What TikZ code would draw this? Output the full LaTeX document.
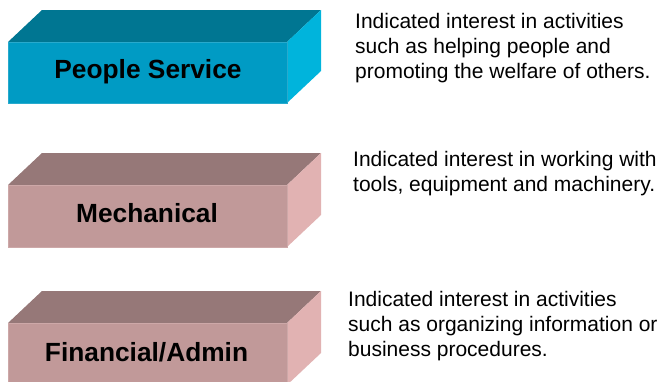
\documentclass[tikz,border=0pt]{standalone}
\usepackage{fontspec}
\setmainfont{Liberation Sans}
\definecolor{tealfront}{RGB}{0,155,196}
\definecolor{tealtop}{RGB}{0,118,146}
\definecolor{tealside}{RGB}{0,180,220}
\definecolor{tealedge}{RGB}{40,170,205}
\definecolor{rosefront}{RGB}{193,153,153}
\definecolor{rosetop}{RGB}{150,120,120}
\definecolor{roseside}{RGB}{225,178,178}
\definecolor{roseedge}{RGB}{205,168,168}
\tikzset{
  label/.style={font=\bfseries\fontsize{26.3bp}{31bp}\selectfont,anchor=base,inner sep=0pt},
  desc/.style={font=\fontsize{21bp}{24.8bp}\selectfont,align=left,anchor=north west,inner sep=0pt}
}
\begin{document}
\begin{tikzpicture}[x=1bp,y=-1bp]
\useasboundingbox (0,0) rectangle (663,381);
%
% --- Box 1: People Service ---
\fill[tealtop] (8,42) -- (42,10) -- (321,10) -- (287,42) -- cycle;
\fill[tealside] (287,42) -- (321,10) -- (321,71) -- (287,103) -- cycle;
\draw[tealedge,fill=tealfront,line width=1bp] (8.5,42.5) rectangle (287,103);
\node[label] (ps) at (148,78) {People Service};
\node[desc] (ps-text) at (355,13)
  {Indicated interest in activities\\such as helping people and\\promoting the welfare of others.};
%
% --- Box 2: Mechanical ---
\fill[rosetop] (8,185) -- (42,153) -- (321,153) -- (287,185) -- cycle;
\fill[roseside] (287,185) -- (321,153) -- (321,215) -- (287,247) -- cycle;
\draw[roseedge,fill=rosefront,line width=1bp] (8.5,185.5) rectangle (287,247);
\node[label] (mech) at (147,222) {Mechanical};
\node[desc] (mech-text) at (353,151.5)
  {Indicated interest in working with\\tools, equipment and machinery.};
%
% --- Box 3: Financial/Admin ---
\fill[rosetop] (8,323) -- (42,291) -- (321,291) -- (287,323) -- cycle;
\fill[roseside] (287,323) -- (321,291) -- (321,353) -- (287,385) -- cycle;
\draw[roseedge,fill=rosefront,line width=1bp] (8.5,323.5) rectangle (287,385);
\node[label] (fin) at (146.5,361) {Financial/Admin};
\node[desc] (fin-text) at (348,291.5)
  {Indicated interest in activities\\such as organizing information or\\business procedures.};
\end{tikzpicture}
\end{document}
